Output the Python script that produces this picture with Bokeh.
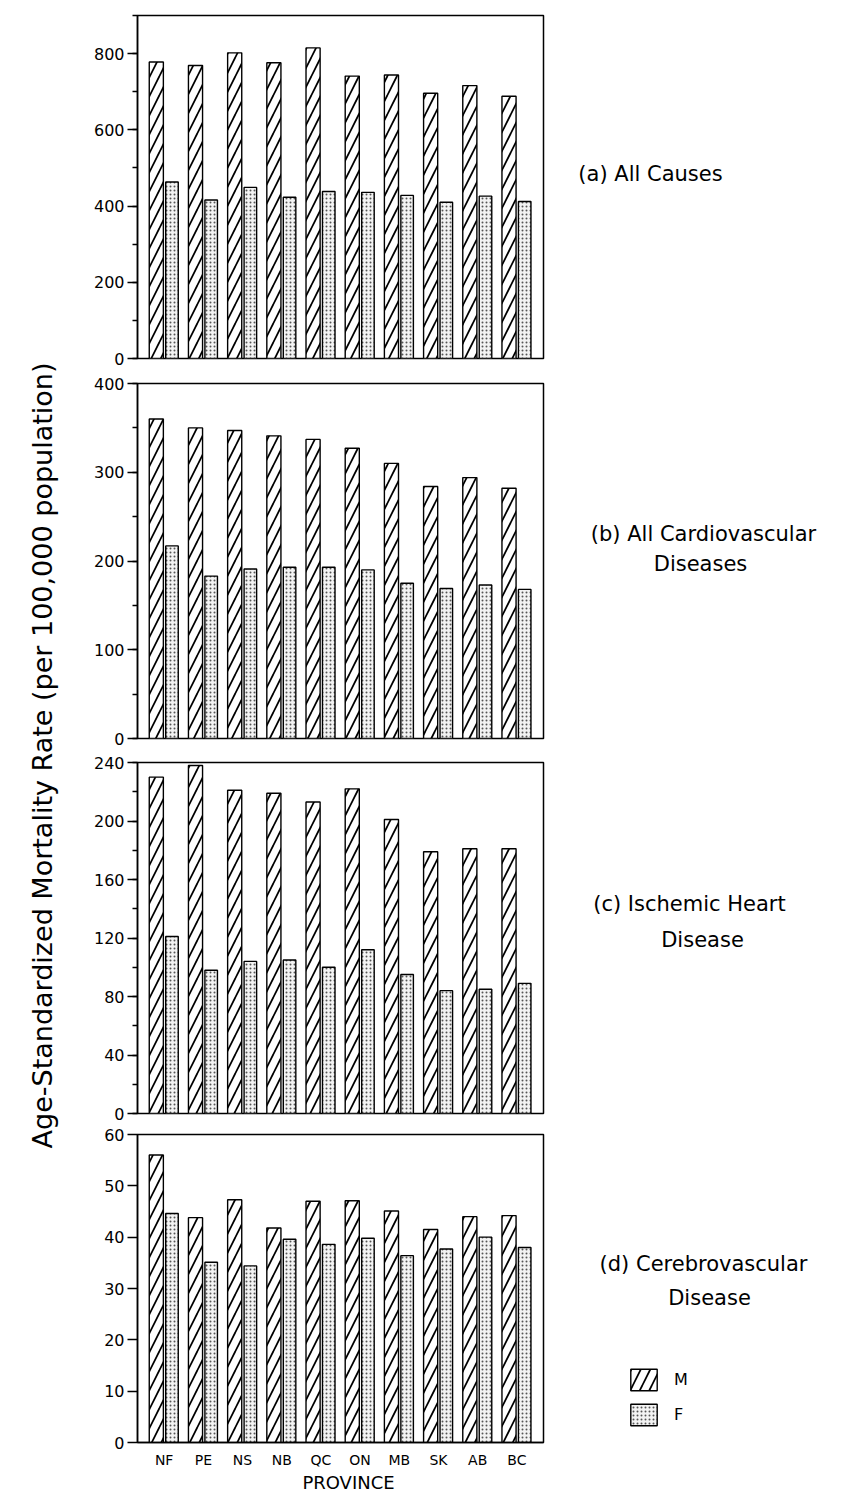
import math
from bokeh.plotting import figure
from bokeh.models import (FactorRange, Range1d, SingleIntervalTicker, Label,
                          Legend, LegendItem, ColumnDataSource)
from bokeh.layouts import row, column
from bokeh.transform import dodge
from bokeh.embed import file_html
from bokeh.resources import INLINE

# ---------------- data ----------------
provinces = ["NF", "PE", "NS", "NB", "QC", "ON", "MB", "SK", "AB", "BC"]

all_causes_m = [778, 769, 802, 776, 815, 741, 744, 696, 716, 688]
all_causes_f = [463, 416, 449, 423, 438, 436, 428, 410, 426, 412]

cvd_m = [360, 350, 347, 341, 337, 327, 310, 284, 294, 282]
cvd_f = [217, 183, 191, 193, 193, 190, 175, 169, 173, 168]

ihd_m = [230, 238, 221, 219, 213, 222, 201, 179, 181, 181]
ihd_f = [121, 98, 104, 105, 100, 112, 95, 84, 85, 89]

stroke_m = [56.0, 43.8, 47.3, 41.8, 47.0, 47.1, 45.1, 41.5, 44.0, 44.2]
stroke_f = [44.6, 35.1, 34.4, 39.6, 38.6, 39.8, 36.4, 37.7, 40.0, 38.0]

panel_titles = [["(a) All Causes"],
                ["(b) All Cardiovascular", "Diseases"],
                ["(c) Ischemic Heart", "Disease"],
                ["(d) Cerebrovascular", "Disease"]]
y_title = "Age-Standardized Mortality Rate (per 100,000 population)"
x_title = "PROVINCE"
legend_labels = ["M", "F"]

FONT = "DejaVu Sans"
PAGE_W, PAGE_H = 852, 1493
W0 = 68            # width of the left (y title) strip
W1 = 485           # width of the panel column
W2 = PAGE_W - W0 - W1
BL = 69            # left border of every panel (frames are aligned)
FRAME_W = 406
BR = W1 - BL - FRAME_W

M_STYLE = dict(fill_color="white", line_color="black", line_width=1.4,
               hatch_pattern="/", hatch_scale=19, hatch_weight=1.7,
               hatch_color="black")
F_STYLE = dict(fill_color="#f3f3f3", line_color="black", line_width=1.4,
               hatch_pattern=".", hatch_scale=4, hatch_weight=1.0,
               hatch_color="#555555")


def make_panel(m, f, ymax, interval, minor, height, bt, bb, show_x):
    p = figure(x_range=FactorRange(factors=provinces, range_padding=0.18,
                                   range_padding_units="absolute"),
               y_range=Range1d(0, ymax), width=W1, height=height,
               min_border_left=BL, min_border_right=BR,
               min_border_top=bt, min_border_bottom=bb,
               output_backend="svg", toolbar_location=None, tools="")
    src = ColumnDataSource(dict(prov=provinces, m=m, f=f))
    p.vbar(x=dodge("prov", -0.2, range=p.x_range), top="m", width=0.36,
           source=src, **M_STYLE)
    p.vbar(x=dodge("prov", 0.2, range=p.x_range), top="f", width=0.32,
           source=src, **F_STYLE)
    p.grid.visible = False
    p.outline_line_color = "black"
    p.outline_line_width = 1.5
    p.background_fill_color = "white"
    p.border_fill_color = "white"

    ya = p.yaxis[0]
    ya.ticker = SingleIntervalTicker(interval=interval, num_minor_ticks=minor)
    ya.major_tick_out = 10
    ya.major_tick_in = 0
    ya.minor_tick_out = 5
    ya.minor_tick_in = 0
    ya.major_label_standoff = 3
    ya.major_label_text_font = FONT
    ya.major_label_text_font_size = "16px"
    ya.major_label_text_color = "black"
    ya.axis_line_width = 1.5
    ya.major_tick_line_width = 1.3
    ya.minor_tick_line_width = 1.3

    xa = p.xaxis[0]
    if show_x:
        xa.major_tick_line_color = None
        xa.minor_tick_line_color = None
        xa.major_label_standoff = 3
        xa.major_label_text_font = FONT
        xa.major_label_text_font_size = "14px"
        xa.major_label_text_color = "black"
        xa.axis_line_width = 1.5
    else:
        xa.visible = False
    return p


PANEL_H = [370, 380, 373, 347]
pa = make_panel(all_causes_m, all_causes_f, 900, 200, 2, PANEL_H[0], 15, 12, False)
pb = make_panel(cvd_m, cvd_f, 400, 100, 2, PANEL_H[1], 13, 12, False)
pc = make_panel(ihd_m, ihd_f, 240, 40, 2, PANEL_H[2], 12, 10, False)
pd_ = make_panel(stroke_m, stroke_f, 60, 10, 0, PANEL_H[3], 11, 27, True)


def blank_fig(w, h):
    f = figure(width=w, height=h, x_range=Range1d(0, w),
               y_range=Range1d(h, 0), min_border=0, min_border_left=0,
               min_border_right=0, min_border_top=0, min_border_bottom=0,
               output_backend="svg", toolbar_location=None, tools="")
    f.axis.visible = False
    f.grid.visible = False
    f.outline_line_color = None
    return f


# bottom strip under the panels: x title (its frame is aligned with the panels)
PROV_H = PAGE_H - sum(PANEL_H)
xf = blank_fig(W1, PROV_H)
xf.add_layout(Label(x=348 - W0 - BL, y=PROV_H / 2, x_units="screen",
                    text=x_title, text_align="center", text_baseline="middle",
                    text_font=FONT, text_font_size="18px", text_color="black"))

# left strip: shared y title
tf = blank_fig(W0, PAGE_H)
tf.add_layout(Label(x=42, y=755, text=y_title, angle=math.pi / 2,
                    text_align="center", text_baseline="middle",
                    text_font=FONT, text_font_size="27px", text_color="black"))

# right strip: panel titles and legend
rf = blank_fig(W2, PAGE_H)
X2 = W0 + W1
title_pos = [[(650, 173)],
             [(703, 533), (700, 563)],
             [(689, 903), (702, 939)],
             [(703, 1263), (709, 1297)]]
for lines, poss in zip(panel_titles, title_pos):
    for t, (x, y) in zip(lines, poss):
        rf.add_layout(Label(x=x - X2, y=y, text=t, text_align="center",
                            text_baseline="middle", text_font=FONT,
                            text_font_size="21px", text_color="black"))

# legend swatches: hidden proxy renderers carrying the bar styles
proxy = ColumnDataSource(dict(x=[0], top=[0]))
lm = rf.vbar(x="x", top="top", width=1, source=proxy, visible=False, **M_STYLE)
lf = rf.vbar(x="x", top="top", width=1, source=proxy, visible=False, **F_STYLE)
legend = Legend(items=[LegendItem(label=legend_labels[0], renderers=[lm]),
                       LegendItem(label=legend_labels[1], renderers=[lf])],
                location=(627 - X2, PAGE_H - 1428), orientation="vertical",
                glyph_width=33, glyph_height=27, label_standoff=14,
                spacing=8, padding=0, margin=0, border_line_color=None,
                background_fill_alpha=0, label_text_font=FONT,
                label_text_font_size="16px", label_text_color="black")
rf.add_layout(legend)

layout = row(tf, column(pa, pb, pc, pd_, xf), rf)
open("out.html", "w").write(file_html(layout, INLINE))
